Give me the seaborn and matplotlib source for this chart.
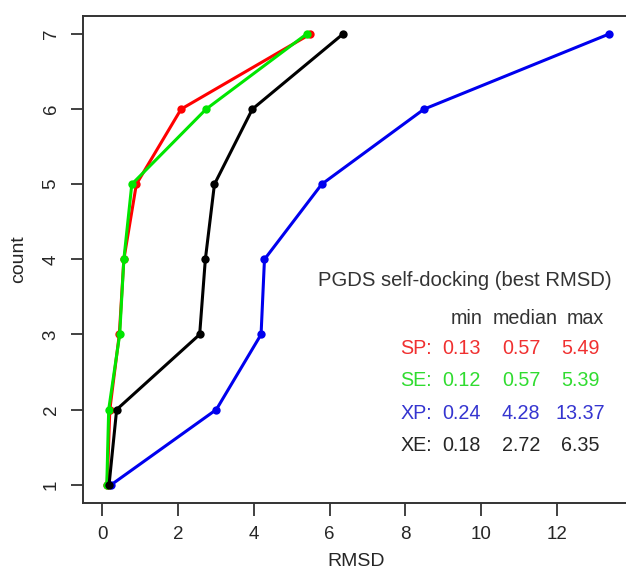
import matplotlib
matplotlib.use("Agg")
import matplotlib.pyplot as plt
import seaborn as sns
import pandas as pd

# Sorted best-RMSD values per docking protocol (one per ligand rank)
counts = [1, 2, 3, 4, 5, 6, 7]
sp_rmsd = [0.13, 0.20, 0.45, 0.57, 0.90, 2.08, 5.49]
se_rmsd = [0.12, 0.17, 0.46, 0.57, 0.78, 2.74, 5.39]
xp_rmsd = [0.24, 3.01, 4.19, 4.28, 5.79, 8.49, 13.37]
xe_rmsd = [0.18, 0.38, 2.57, 2.72, 2.96, 3.96, 6.35]

methods = ["SP", "SE", "XP", "XE"]
colors = {"SP": "#ff0000", "SE": "#00e600", "XP": "#0000ee", "XE": "#000000"}
text_colors = {"SP": "#f03030", "SE": "#30dc30", "XP": "#3535d0", "XE": "#262626"}

# Summary table values (min, median, max)
summary = {
    "SP": ["0.13", "0.57", "5.49"],
    "SE": ["0.12", "0.57", "5.39"],
    "XP": ["0.24", "4.28", "13.37"],
    "XE": ["0.18", "2.72", "6.35"],
}
column_names = ["min", "median", "max"]
title_text = "PGDS self-docking (best RMSD)"

series = {"SP": sp_rmsd, "SE": se_rmsd, "XP": xp_rmsd, "XE": xe_rmsd}
df = pd.DataFrame(
    [(m, r, c) for m in methods for r, c in zip(series[m], counts)],
    columns=["method", "RMSD", "count"],
)

sns.set_style("ticks")
plt.rcParams["font.family"] = ["Liberation Sans", "DejaVu Sans"]

fig = plt.figure(figsize=(6.26, 5.71), dpi=100)
W, H = 626, 571
left_px, right_px, top_px, bottom_px = 83.3, 629.1, 16.0, 502.7
ax = fig.add_axes([left_px / W, 1 - bottom_px / H,
                   (right_px - left_px) / W, (bottom_px - top_px) / H])

sns.lineplot(
    data=df, x="RMSD", y="count", hue="method", hue_order=methods,
    palette=colors, marker="o", markersize=6, markeredgewidth=0,
    linewidth=2.2, estimator=None, sort=False, legend=False, ax=ax,
)

ax.set_xlim(-0.5, 13.9)
ax.set_ylim(0.76, 7.24)
ax.set_xticks([0, 2, 4, 6, 8, 10, 12])
ax.set_yticks(counts)
ax.set_xlabel("RMSD", fontsize=14, color="#262626", labelpad=7)
ax.set_ylabel("count", fontsize=14, color="#262626", labelpad=11)
ax.tick_params(axis="both", direction="out", length=9, width=1.3,
               colors="#333333", labelsize=13.5, labelcolor="#262626", pad=8)
for lab in ax.get_yticklabels():
    lab.set_rotation(90)
    lab.set_va("center")

for side in ["left", "bottom", "top", "right"]:
    ax.spines[side].set_visible(True)
    ax.spines[side].set_color("#333333")
    ax.spines[side].set_linewidth(1.4)

# Annotation block with summary statistics
ax.text(9.56, 3.715, title_text, ha="center", va="center",
        fontsize=14.6, color="#333333")
col_x = [9.61, 11.17, 12.75]
for cx, name in zip(col_x, column_names):
    ax.text(cx, 3.219, name, ha="center", va="center",
            fontsize=14.2, color="#333333")
row_y = [2.807, 2.386, 1.952, 1.522]
num_x = [9.47, 11.05, 12.62]
for ry, m in zip(row_y, methods):
    ax.text(7.87, ry, m + ":", ha="left", va="center",
            fontsize=14.2, color=text_colors[m])
    for nx, val in zip(num_x, summary[m]):
        ax.text(nx, ry, val, ha="center", va="center",
                fontsize=14.2, color=text_colors[m])

fig.savefig("out.png", dpi=100)
